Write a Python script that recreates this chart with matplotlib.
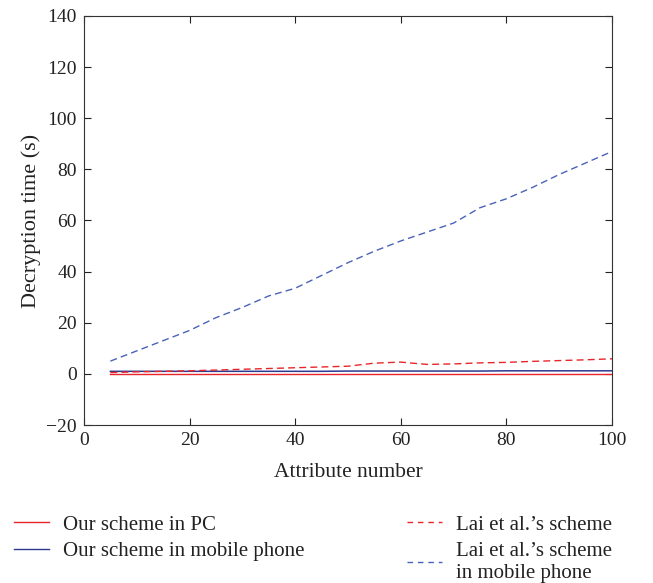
import matplotlib
matplotlib.use("Agg")
import matplotlib.pyplot as plt
from matplotlib.lines import Line2D

plt.rcParams['font.family'] = ['Liberation Serif', 'DejaVu Serif']

attributes = [5, 10, 15, 20, 25, 30, 35, 40, 45, 50, 55, 60, 65, 70, 75, 80, 85, 90, 95, 100]
ours_pc = [0.1, 0.1, 0.1, 0.1, 0.1, 0.1, 0.1, 0.1, 0.1, 0.1, 0.1, 0.1, 0.1, 0.1, 0.1, 0.1, 0.1, 0.1, 0.1, 0.1]
ours_mobile = [1.0, 1.0, 1.0, 1.0, 1.0, 1.0, 1.0, 1.0, 1.0, 1.1, 1.1, 1.1, 1.1, 1.1, 1.1, 1.2, 1.2, 1.2, 1.2, 1.2]
lai_pc = [0.5, 0.8, 1.0, 1.2, 1.5, 1.8, 2.1, 2.4, 2.7, 3.0, 4.2, 4.6, 3.7, 3.9, 4.3, 4.5, 4.9, 5.2, 5.5, 5.9]
lai_mobile = [5.0, 9.0, 13.0, 17.0, 22.0, 26.0, 30.5, 33.5, 38.5, 43.5, 48.0, 52.0, 55.5, 59.0, 65.0, 68.5, 73.0, 78.0, 82.5, 87.0]

labels = ["Our scheme in PC", "Our scheme in mobile phone",
          "Lai et al.’s scheme", "Lai et al.’s scheme\nin mobile phone"]

red = '#e8262a'
blue = '#2b3990'
blue_d = '#4a62b8'

fig = plt.figure(figsize=(6.53, 5.83), dpi=100)
ax = fig.add_axes([84/653, 1 - 425/583, (612-84)/653, (425-16)/583])

ax.plot(attributes, ours_pc, color=red, lw=1.0)
ax.plot(attributes, ours_mobile, color=blue, lw=1.1)
ax.plot(attributes, lai_pc, color=red, lw=1.0, ls=(0, (5, 3)))
ax.plot(attributes, lai_mobile, color=blue_d, lw=1.0, ls=(0, (5, 3)))

ax.set_xlim(0, 100)
ax.set_ylim(-20, 140)
ax.set_xticks([0, 20, 40, 60, 80, 100])
ax.set_yticks([-20, 0, 20, 40, 60, 80, 100, 120, 140])
ax.set_yticklabels(['−20', '0', '20', '40', '60', '80', '100', '120', '140'])
ax.tick_params(direction='in', top=True, right=True, labelsize=14, length=5, width=0.8,
               colors='#222222', labelcolor='#222222', pad=5)
for s in ax.spines.values():
    s.set_linewidth(0.8)
    s.set_color('#333333')
ax.set_xlabel('Attribute number', fontsize=15.5, color='#222222', labelpad=10)
ax.set_ylabel('Decryption time (s)', fontsize=16, color='#222222', labelpad=4)

h1 = [Line2D([], [], color=red, lw=1.0), Line2D([], [], color=blue, lw=1.0)]
h2 = [Line2D([], [], color=red, lw=1.0, ls=(0, (4, 3.5))), Line2D([], [], color=blue_d, lw=1.0, ls=(0, (4, 3.5)))]
common = dict(loc='upper left', frameon=False, fontsize=15, handlelength=1.7, handletextpad=0.65,
              labelspacing=0.35, borderaxespad=0, borderpad=0, labelcolor='#222222')
leg1 = fig.legend(h1, labels[:2], bbox_to_anchor=(14/653, 1 - 515/583), **common)
leg2 = fig.legend(h2, labels[2:], bbox_to_anchor=(407/653, 1 - 515/583), **common)

fig.savefig('out.png', dpi=100)
